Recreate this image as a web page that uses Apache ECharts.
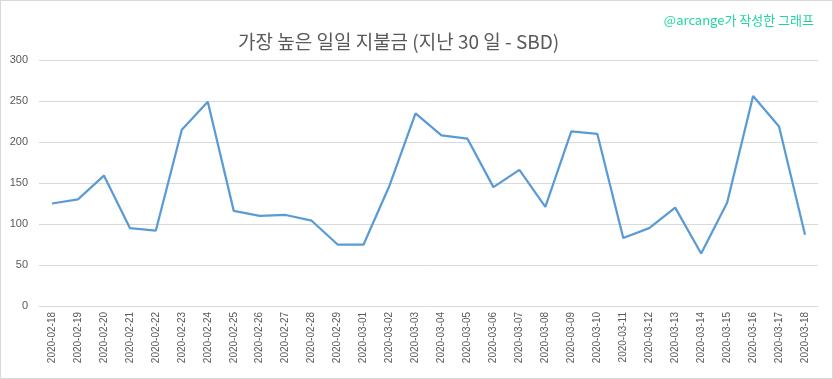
<!DOCTYPE html>
<html>
<head>
<meta charset="utf-8">
<script src="https://cdn.jsdelivr.net/npm/echarts@6/dist/echarts.min.js"></script>
<style>
html,body{margin:0;padding:0;background:#fff;}
#chart{width:833px;height:379px;box-sizing:border-box;border:1px solid #d9d9d9;}
</style>
</head>
<body>
<div id="chart"></div>
<script>
const categories = ["2020-02-18","2020-02-19","2020-02-20","2020-02-21","2020-02-22","2020-02-23","2020-02-24","2020-02-25","2020-02-26","2020-02-27","2020-02-28","2020-02-29","2020-03-01","2020-03-02","2020-03-03","2020-03-04","2020-03-05","2020-03-06","2020-03-07","2020-03-08","2020-03-09","2020-03-10","2020-03-11","2020-03-12","2020-03-13","2020-03-14","2020-03-15","2020-03-16","2020-03-17","2020-03-18"];
const payouts = [125,130,159,95,92,215,249,116,110,111,104,75,75,147,235,208,204,145,166,121,213,210,83,95,120,64,126,256,219,87];
const titleText = "가장 높은 일일 지불금 (지난 30 일 - SBD)";
const watermark = "@arcange가 작성한 그래프";

const chart = echarts.init(document.getElementById('chart'), null, {renderer:'canvas'});
chart.setOption({
  animation:false,
  title:[{
    text:titleText, left:232, top:26,
    textStyle:{fontFamily:'Noto Sans CJK KR', fontSize:19, fontWeight:'normal', color:'#595959'}
  },{
    text:watermark, right:13, top:8,
    textStyle:{fontFamily:'Noto Sans CJK KR', fontSize:13, fontWeight:'normal', color:'#1fd6a0'}
  }],
  grid:{left:38, right:14, top:59, bottom:72},
  xAxis:{
    type:'category', data:categories, boundaryGap:true,
    axisLine:{lineStyle:{color:'#d9d9d9'}},
    axisTick:{show:false},
    axisLabel:{rotate:90, interval:0, color:'#595959', fontFamily:'Liberation Sans', fontSize:10, margin:6}
  },
  yAxis:{
    type:'value', min:0, max:300, interval:50,
    axisLine:{show:false}, axisTick:{show:false},
    splitLine:{lineStyle:{color:'#d9d9d9'}},
    axisLabel:{color:'#595959', fontFamily:'Liberation Sans', fontSize:11, margin:11}
  },
  series:[{
    type:'line', data:payouts, showSymbol:false, symbol:'none',
    lineStyle:{color:'#5b9bd5', width:2.25}
  }]
});
</script>
</body>
</html>
